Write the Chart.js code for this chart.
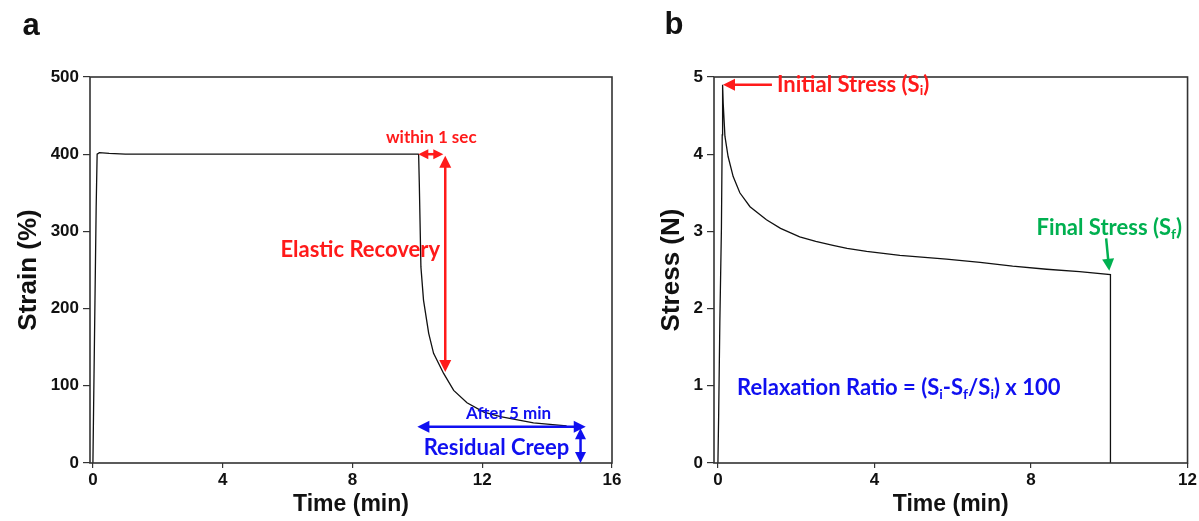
<!DOCTYPE html>
<html>
<head>
<meta charset="utf-8">
<script src="https://cdn.jsdelivr.net/npm/chart.js@4.4.1/dist/chart.umd.min.js"></script>
<style>
  html, body { margin: 0; padding: 0; background: #fff; }
  #wrap { position: relative; width: 1199px; height: 521px; overflow: hidden; }
  #boxA { position: absolute; left: 0; top: 0; width: 628px; height: 521px; }
  #boxB { position: absolute; left: 600px; top: 0; width: 599px; height: 521px; }
</style>
</head>
<body>
<div id="wrap">
  <div id="boxA"><canvas id="strainChart"></canvas></div>
  <div id="boxB"><canvas id="stressChart"></canvas></div>
</div>
<script>
// panel a : creep / recovery
const strainTime   = [0, 0.02, 0.06, 0.1, 0.13, 0.2, 0.5, 1, 10.03, 10.04, 10.06, 10.11, 10.19, 10.35, 10.5, 10.81, 11.12, 11.53, 12.05, 12.56, 13.58, 14.6];
const strainValues = [0, 68, 200, 331, 400, 402, 401, 400, 400, 399, 363, 254, 211, 168, 142, 116, 94, 78, 66, 60, 52, 48];
const strainTicksX = [0, 4, 8, 12, 16];

// panel b : stress relaxation
const stressTime   = [0, 0.02, 0.05, 0.09, 0.11, 0.12, 0.135, 0.18, 0.26, 0.39, 0.56, 0.82, 1.24, 1.6, 2.09, 2.5, 2.94, 3.3, 3.8, 4.65, 5.84, 6.7, 7.53, 8.4, 9.24, 10.03, 10.03];
const stressValues = [0, 0.65, 1.85, 3.05, 4.25, 4.9, 4.66, 4.23, 3.97, 3.71, 3.5, 3.32, 3.15, 3.04, 2.93, 2.87, 2.82, 2.78, 2.74, 2.69, 2.64, 2.6, 2.55, 2.51, 2.48, 2.44, 0];
const stressTicksX = [0, 4, 8, 12];

const RED = '#ff1a1a';
const BLUE = '#1010f0';
const GREEN = '#00b050';

// annotations, in data coordinates
const strainNotes = [
    { text: 'within 1 sec', x: 10.43, y: 422, size: 17, color: RED, align: 'center' },
    { text: 'Elastic Recovery', x: 8.24, y: 276, size: 22, color: RED, align: 'center' },
    { text: 'After 5 min', x: 12.81, y: 64, size: 17, color: BLUE, align: 'center' },
    { text: 'Residual Creep', x: 12.44, y: 19, size: 22, color: BLUE, align: 'center' }
];
const strainArrows = [
    { from: [10.8, 400], to: [10.03, 400], color: RED, both: true, head: 10 },
    { from: [10.86, 398], to: [10.86, 118], color: RED, both: true, head: 12 },
    { from: [10.0, 47], to: [15.19, 47], color: BLUE, both: true, head: 12 },
    { from: [15.03, 45], to: [15.03, 0], color: BLUE, both: true, head: 11 }
];
const stressNotes = [
    { text: 'Initial Stress (S_{i})', x: 1.51, y: 4.9, size: 22, color: RED, align: 'left' },
    { text: 'Final Stress (S_{f})', x: 10.0, y: 3.04, size: 22, color: GREEN, align: 'center' },
    { text: 'Relaxation Ratio = (S_{i}-S_{f}/S_{i}) x 100', x: 0.49, y: 0.97, size: 22, color: BLUE, align: 'left' }
];
const stressArrows = [
    { from: [1.38, 4.9], to: [0.13, 4.9], color: RED, both: false, head: 12 },
    { from: [9.92, 2.91], to: [10.0, 2.49], color: GREEN, both: false, head: 12 }
];

const NOTE_FONT = 'Lato, "Open Sans", sans-serif';
const AXIS_FONT = '"Liberation Sans", Arial, sans-serif';

function arrowHead(ctx, x, y, angle, len) {
    const half = len / 2;
    ctx.beginPath();
    ctx.moveTo(x, y);
    ctx.lineTo(x - len * Math.cos(angle) + half * Math.sin(angle), y - len * Math.sin(angle) - half * Math.cos(angle));
    ctx.lineTo(x - len * Math.cos(angle) - half * Math.sin(angle), y - len * Math.sin(angle) + half * Math.cos(angle));
    ctx.closePath();
    ctx.fill();
}

function drawArrow(ctx, x1, y1, x2, y2, color, both, len) {
    const angle = Math.atan2(y2 - y1, x2 - x1);
    ctx.strokeStyle = color;
    ctx.fillStyle = color;
    ctx.lineWidth = 2.5;
    ctx.beginPath();
    ctx.moveTo(both ? x1 + 6 * Math.cos(angle) : x1, both ? y1 + 6 * Math.sin(angle) : y1);
    ctx.lineTo(x2 - 6 * Math.cos(angle), y2 - 6 * Math.sin(angle));
    ctx.stroke();
    arrowHead(ctx, x2, y2, angle, len);
    if (both) arrowHead(ctx, x1, y1, angle + Math.PI, len);
}

// text with _{sub} parts
function drawRich(ctx, text, x, y, size, color, align) {
    const parts = [];
    const re = /_\{([^}]*)\}/g;
    let last = 0, m;
    while ((m = re.exec(text)) !== null) {
        if (m.index > last) parts.push({ s: text.slice(last, m.index), sub: false });
        parts.push({ s: m[1], sub: true });
        last = re.lastIndex;
    }
    if (last < text.length) parts.push({ s: text.slice(last), sub: false });

    const fontFor = p => 'bold ' + (p.sub ? Math.round(size * 0.62) : size) + 'px ' + NOTE_FONT;
    let total = 0;
    parts.forEach(p => { ctx.font = fontFor(p); p.w = ctx.measureText(p.s).width; total += p.w; });
    let cx = align === 'center' ? x - total / 2 : x;
    ctx.fillStyle = color;
    ctx.textBaseline = 'middle';
    ctx.textAlign = 'left';
    parts.forEach(p => {
        ctx.font = fontFor(p);
        ctx.fillText(p.s, cx, p.sub ? y + size * 0.28 : y);
        cx += p.w;
    });
}

const frameAndNotes = {
    id: 'frameAndNotes',
    afterDatasetsDraw(chart, args, opts) {
        const { ctx, chartArea: a, scales: { x, y } } = chart;
        ctx.save();
        ctx.strokeStyle = '#333';
        ctx.lineWidth = 1.6;
        ctx.strokeRect(a.left, a.top, a.right - a.left, a.bottom - a.top);
        (opts.arrows || []).forEach(ar => drawArrow(ctx,
            x.getPixelForValue(ar.from[0]), y.getPixelForValue(ar.from[1]),
            x.getPixelForValue(ar.to[0]), y.getPixelForValue(ar.to[1]), ar.color, ar.both, ar.head));
        (opts.notes || []).forEach(n => drawRich(ctx, n.text,
            x.getPixelForValue(n.x), y.getPixelForValue(n.y), n.size, n.color, n.align));
        if (opts.letter) {
            ctx.fillStyle = '#111';
            ctx.font = 'bold 31px ' + AXIS_FONT;
            ctx.textAlign = 'center';
            ctx.textBaseline = 'middle';
            ctx.fillText(opts.letter.text, opts.letter.x, opts.letter.y);
        }
        ctx.restore();
    }
};

function makeChart(canvasId, times, values, xTicks, cfg) {
    const pts = times.map((t, i) => ({ x: t, y: values[i] }));
    return new Chart(document.getElementById(canvasId), {
        type: 'line',
        data: {
            datasets: [{
                data: pts,
                borderColor: '#111',
                borderWidth: 1.3,
                pointRadius: 0,
                tension: 0,
                fill: false
            }]
        },
        options: {
            responsive: true,
            maintainAspectRatio: false,
            animation: false,
            layout: { padding: cfg.padding },
            plugins: {
                legend: { display: false },
                tooltip: { enabled: false },
                frameAndNotes: { notes: cfg.notes, arrows: cfg.arrows, letter: cfg.letter }
            },
            scales: {
                x: {
                    type: 'linear',
                    min: cfg.xMin,
                    max: cfg.xMax,
                    afterBuildTicks: scale => { scale.ticks = xTicks.map(v => ({ value: v })); },
                    afterFit: scale => { scale.height = 58; },
                    border: { display: false },
                    grid: { drawOnChartArea: false, drawTicks: true, tickLength: 5, color: '#333', lineWidth: 1.2 },
                    ticks: { color: '#111', padding: 2, maxRotation: 0, font: { family: AXIS_FONT, size: 17, weight: 'bold' } },
                    title: { display: true, text: 'Time (min)', color: '#111', padding: { top: 0, bottom: 3 },
                             font: { family: AXIS_FONT, size: 23, weight: 'bold' } }
                },
                y: {
                    min: 0,
                    max: cfg.yMax,
                    afterFit: scale => { scale.width = cfg.yWidth; },
                    border: { display: false },
                    grid: { drawOnChartArea: false, drawTicks: true, tickLength: 7, color: '#333', lineWidth: 1.2 },
                    ticks: { stepSize: cfg.yStep, color: '#111', padding: 4, font: { family: AXIS_FONT, size: 17, weight: 'bold' } },
                    title: { display: true, text: cfg.yTitle, color: '#111', padding: { top: cfg.yTitlePad, bottom: 0 },
                             font: { family: AXIS_FONT, size: 26, weight: 'bold' } }
                }
            }
        },
        plugins: [frameAndNotes]
    });
}

makeChart('strainChart', strainTime, strainValues, strainTicksX, {
    padding: { left: 0, right: 16, top: 77, bottom: 0 },
    xMin: -0.09, xMax: 16, yMax: 500, yStep: 100, yWidth: 90,
    yTitle: 'Strain (%)', yTitlePad: 13,
    notes: strainNotes, arrows: strainArrows,
    letter: { text: 'a', x: 31, y: 26 }
});

makeChart('stressChart', stressTime, stressValues, stressTicksX, {
    padding: { left: 0, right: 11, top: 77, bottom: 0 },
    xMin: -0.1, xMax: 12, yMax: 5, yStep: 1, yWidth: 114,
    yTitle: 'Stress (N)', yTitlePad: 56,
    notes: stressNotes, arrows: stressArrows,
    letter: { text: 'b', x: 74, y: 25 }
});
</script>
</body>
</html>
